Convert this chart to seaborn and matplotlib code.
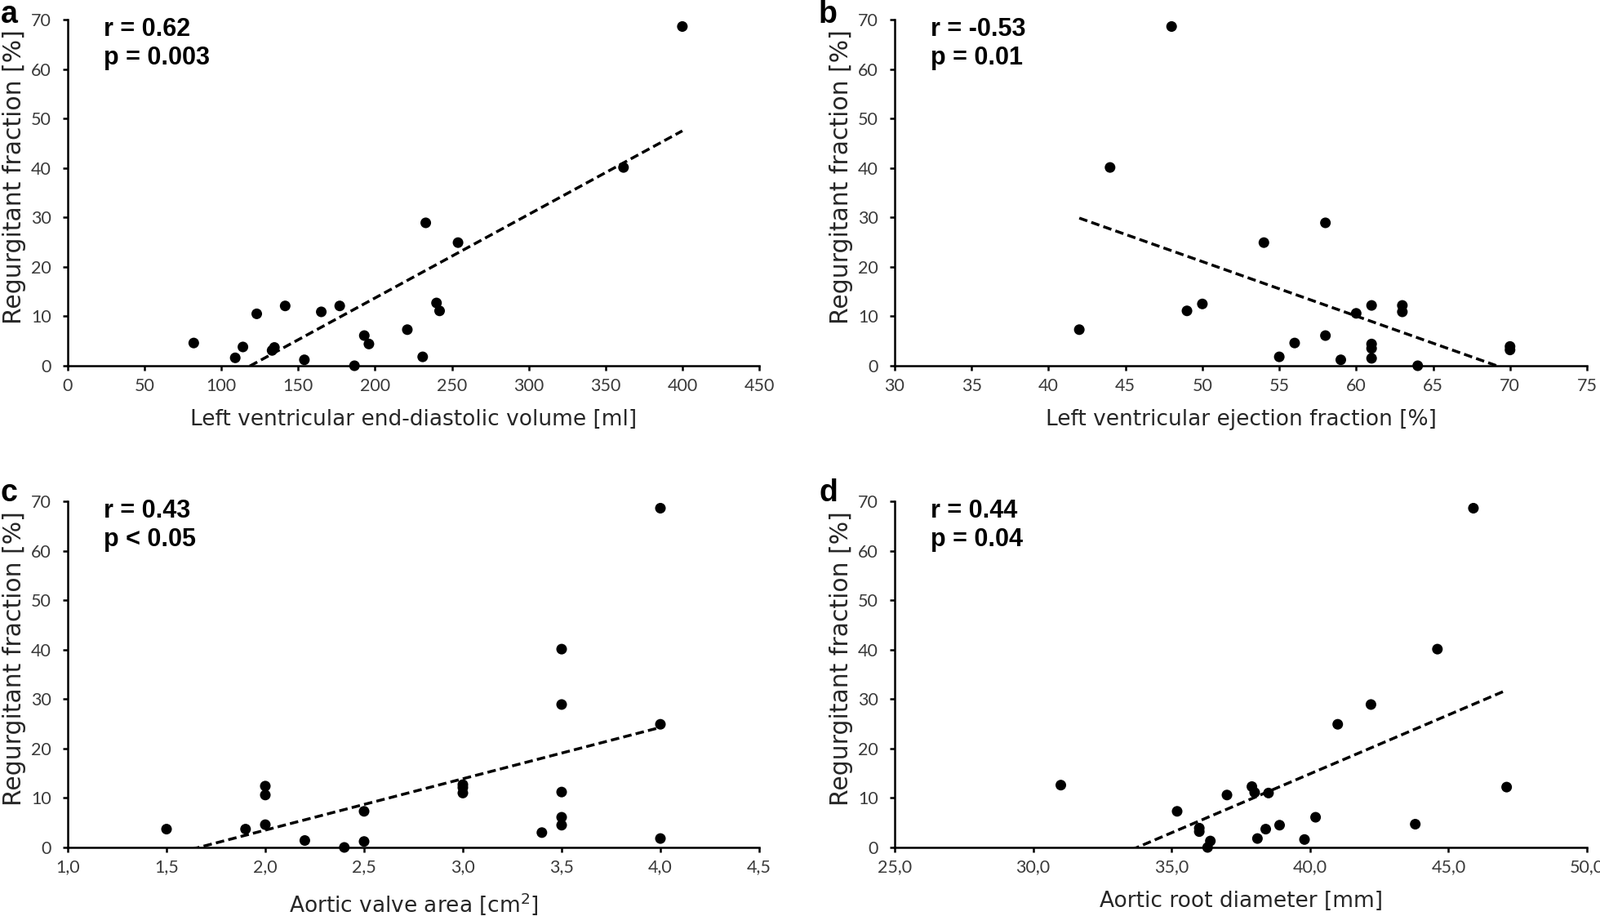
import numpy as np
import pandas as pd
import matplotlib
matplotlib.use("Agg")
import matplotlib.pyplot as plt
import seaborn as sns

# ---------------- data ----------------
lvedv = [82, 109, 114, 123, 133, 134.5, 141.5, 154, 165, 177, 186.6, 193, 196,
         221, 231, 233, 240, 242, 254, 361.7, 400]
rf_a = [4.6, 1.6, 3.8, 10.5, 3.1, 3.7, 12.1, 1.2, 10.9, 12.1, 0, 6.1, 4.4,
        7.3, 1.8, 28.9, 12.7, 11.1, 24.9, 40.1, 68.6]

lvef = [42, 44, 48, 49, 50, 54, 55, 56, 58, 58, 59, 60, 61, 61, 61, 61, 63, 63,
        64, 70, 70]
rf_b = [7.3, 40.1, 68.6, 11.1, 12.5, 24.9, 1.8, 4.6, 28.9, 6.1, 1.2, 10.6, 12.2,
        4.4, 3.5, 1.5, 12.2, 10.9, 0, 3.9, 3.2]

ava = [1.5, 1.9, 2.0, 2.0, 2.0, 2.2, 2.4, 2.5, 2.5, 3.0, 3.0, 3.0, 3.4, 3.5,
       3.5, 3.5, 3.5, 3.5, 4.0, 4.0, 4.0]
rf_c = [3.7, 3.7, 12.4, 10.6, 4.6, 1.4, 0, 7.3, 1.2, 12.7, 12.1, 11.0, 3.0,
        40.1, 28.9, 11.2, 6.1, 4.5, 68.6, 24.9, 1.8]

ard = [31.0, 35.2, 36.0, 36.0, 36.3, 36.4, 37.0, 37.9, 38.0, 38.1, 38.5, 38.4,
       38.9, 39.8, 40.2, 41.0, 42.2, 43.8, 44.6, 45.9, 47.1]
rf_d = [12.6, 7.3, 3.9, 3.2, 0, 1.3, 10.6, 12.3, 11.1, 1.8, 11.0, 3.7, 4.5,
        1.6, 6.1, 24.9, 28.9, 4.7, 40.1, 68.6, 12.2]

xticks_a = [0, 50, 100, 150, 200, 250, 300, 350, 400, 450]
xticklabels_a = ["0", "50", "100", "150", "200", "250", "300", "350", "400", "450"]
xticks_b = [30, 35, 40, 45, 50, 55, 60, 65, 70, 75]
xticklabels_b = ["30", "35", "40", "45", "50", "55", "60", "65", "70", "75"]
xticks_c = [1.0, 1.5, 2.0, 2.5, 3.0, 3.5, 4.0, 4.5]
xticklabels_c = ["1,0", "1,5", "2,0", "2,5", "3,0", "3,5", "4,0", "4,5"]
xticks_d = [25, 30, 35, 40, 45, 50]
xticklabels_d = ["25,0", "30,0", "35,0", "40,0", "45,0", "50,0"]
yticks = [0, 10, 20, 30, 40, 50, 60, 70]
yticklabels = ["0", "10", "20", "30", "40", "50", "60", "70"]

xlabels = ["Left ventricular end-diastolic volume [ml]",
           "Left ventricular ejection fraction [%]",
           "Aortic valve area [cm$^{2}$]",
           "Aortic root diameter [mm]"]
ylabel = "Regurgitant fraction [%]"
r_texts = ["r = 0.62", "r = -0.53", "r = 0.43", "r = 0.44"]
p_texts = ["p = 0.003", "p = 0.01", "p < 0.05", "p = 0.04"]
letters = ["a", "b", "c", "d"]

# ---------------- styling ----------------
sns.set_theme(style="white")
plt.rcParams["font.family"] = ["DejaVu Sans"]

W, H = 1960, 1122
fig = plt.figure(figsize=(W / 100, H / 100), dpi=100)

# axes rectangles in pixels: left, right, top, bottom
px_rects = [(83, 930, 24, 448), (1096, 1944, 24, 448),
            (83, 930, 614, 1038), (1096, 1944, 614, 1038)]
letter_pos = [(1, 28), (1003, 28), (1, 614), (1003, 614)]

panels = [(lvedv, rf_a, xticks_a, xticklabels_a),
          (lvef, rf_b, xticks_b, xticklabels_b),
          (ava, rf_c, xticks_c, xticklabels_c),
          (ard, rf_d, xticks_d, xticklabels_d)]

tick_color = "#3a3a3a"
label_color = "#262626"

for i, (xs, ys, xt, xtl) in enumerate(panels):
    l, r, t, b = px_rects[i]
    ax = fig.add_axes([l / W, 1 - b / H, (r - l) / W, (b - t) / H])
    df = pd.DataFrame({"x": xs, "y": ys})
    sns.regplot(data=df, x="x", y="y", ax=ax, scatter=False, ci=None,
                truncate=True, color="black",
                line_kws=dict(linestyle=(0, (3.0, 1.5)), linewidth=2.5))
    sns.scatterplot(data=df, x="x", y="y", ax=ax, s=88, color="black",
                    edgecolor="none", linewidth=0, clip_on=False, zorder=4)
    ax.set_xlim(xt[0], xt[-1])
    ax.set_ylim(0, 70)
    ax.set_xticks(xt)
    ax.set_xticklabels(xtl, fontfamily=["Lato", "DejaVu Sans"], fontsize=15.5,
                       color=tick_color)
    ax.set_yticks(yticks)
    ax.set_yticklabels(yticklabels, fontfamily=["Lato", "DejaVu Sans"],
                       fontsize=15.5, color=tick_color)
    for s in ["top", "right"]:
        ax.spines[s].set_visible(False)
    for s in ["left", "bottom"]:
        ax.spines[s].set_color("black")
        ax.spines[s].set_linewidth(1.8)
    ax.tick_params(axis="both", direction="out", length=4.5, width=1.8,
                   color="black", bottom=True, left=True)
    ax.tick_params(axis="x", pad=6)
    ax.tick_params(axis="y", pad=10)
    ax.set_xlabel(xlabels[i], fontsize=19, color=label_color)
    ax.xaxis.set_label_coords(0.5, -0.125)
    ax.set_ylabel(ylabel, fontsize=21.5, color=label_color)
    ax.yaxis.set_label_coords(-0.060, 0.545)
    ax.grid(False)
    ax.text(0.052, 0.952, r_texts[i], transform=ax.transAxes,
            fontfamily=["Liberation Sans", "DejaVu Sans"], fontweight="bold",
            fontsize=22, va="baseline", ha="left", color="black")
    ax.text(0.052, 0.870, p_texts[i], transform=ax.transAxes,
            fontfamily=["Liberation Sans", "DejaVu Sans"], fontweight="bold",
            fontsize=22, va="baseline", ha="left", color="black")
    lx, ly = letter_pos[i]
    fig.text(lx / W, 1 - ly / H, letters[i],
             fontfamily=["Liberation Sans", "DejaVu Sans"], fontweight="bold",
             fontsize=27, va="baseline", ha="left", color="black")

fig.savefig("out.png", dpi=100)
